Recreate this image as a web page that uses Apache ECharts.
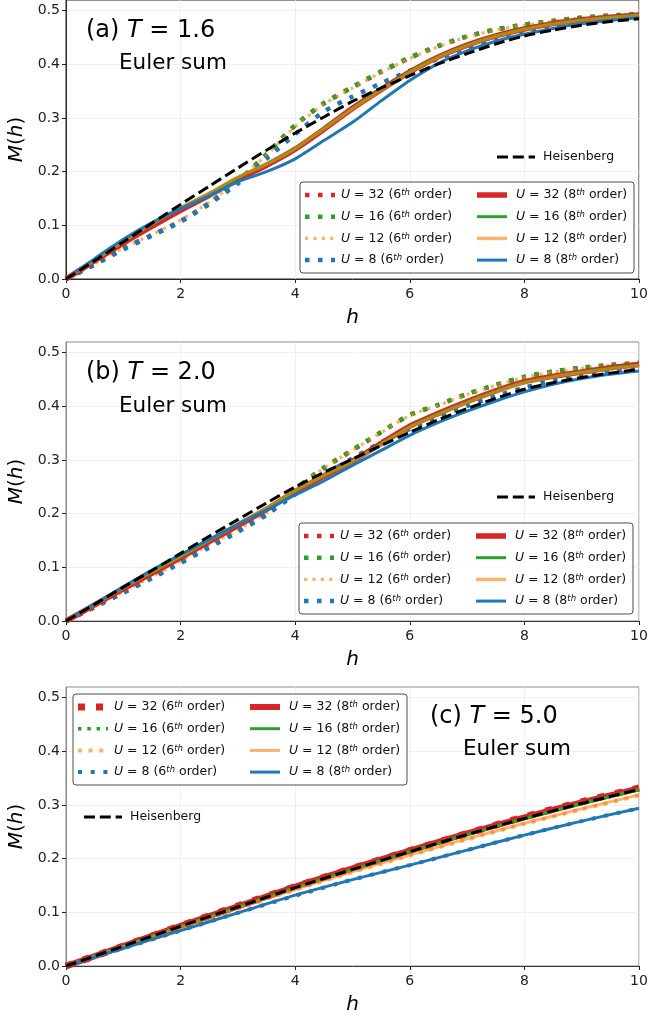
<!DOCTYPE html>
<html>
<head>
<meta charset="utf-8">
<script src="https://cdn.jsdelivr.net/npm/echarts@6/dist/echarts.min.js"></script>
<style>
  html, body { margin: 0; padding: 0; background: #fff; }
  #chart { width: 648px; height: 1019px; }
</style>
</head>
<body>
<div id="chart"></div>
<script>
// Magnetization M(h) from the Euler-summed series, three temperatures.

// field values
const hFine = [0, 0.5, 1, 1.5, 2, 2.5, 3, 3.5, 4, 4.5, 5, 5.5, 6, 6.5, 7, 7.5, 8, 8.5, 9, 9.5, 10];
const hCoarse = [0, 1, 2, 3, 4, 5, 6, 7, 8, 9, 10];

const xTicks = [0, 2, 4, 6, 8, 10];
const yTicks = [0, 0.1, 0.2, 0.3, 0.4, 0.5];
const uValues = [32, 16, 12, 8];

// (a) T = 1.6
const a_heis   = [0, 0.034, 0.069, 0.104, 0.139, 0.173, 0.207, 0.240, 0.272, 0.302, 0.331, 0.356, 0.379, 0.401, 0.420, 0.438, 0.453, 0.464, 0.473, 0.480, 0.485];
const a_6_u32  = [0, 0.027, 0.057, 0.082, 0.108, 0.142, 0.183, 0.232, 0.286, 0.327, 0.357, 0.386, 0.412, 0.434, 0.452, 0.465, 0.474, 0.481, 0.487, 0.491, 0.494];
const a_6_u16  = [0, 0.027, 0.056, 0.081, 0.107, 0.140, 0.182, 0.233, 0.287, 0.328, 0.358, 0.387, 0.413, 0.435, 0.452, 0.465, 0.474, 0.481, 0.487, 0.491, 0.494];
const a_6_u12  = [0, 0.028, 0.058, 0.083, 0.110, 0.143, 0.184, 0.231, 0.284, 0.326, 0.356, 0.385, 0.411, 0.433, 0.451, 0.464, 0.473, 0.480, 0.486, 0.490, 0.493];
const a_6_u8   = [0, 0.027, 0.055, 0.081, 0.107, 0.140, 0.178, 0.224, 0.270, 0.312, 0.340, 0.365, 0.388, 0.411, 0.431, 0.447, 0.460, 0.470, 0.478, 0.484, 0.488];
const a_8_u32  = [0, 0.034, 0.067, 0.098, 0.128, 0.156, 0.186, 0.212, 0.242, 0.279, 0.318, 0.353, 0.386, 0.414, 0.436, 0.453, 0.466, 0.476, 0.483, 0.488, 0.492];
const a_8_u16  = [0, 0.035, 0.070, 0.102, 0.132, 0.159, 0.189, 0.214, 0.243, 0.280, 0.318, 0.353, 0.386, 0.414, 0.436, 0.453, 0.466, 0.476, 0.483, 0.488, 0.492];
const a_8_u12  = [0, 0.035, 0.070, 0.103, 0.133, 0.160, 0.190, 0.214, 0.243, 0.280, 0.317, 0.352, 0.385, 0.413, 0.435, 0.452, 0.465, 0.475, 0.482, 0.487, 0.491];
const a_8_u8   = [0, 0.038, 0.074, 0.105, 0.131, 0.155, 0.181, 0.200, 0.224, 0.258, 0.292, 0.332, 0.370, 0.402, 0.425, 0.443, 0.456, 0.467, 0.476, 0.482, 0.487];

// (b) T = 2.0
const b_heis   = [0, 0.031, 0.063, 0.094, 0.126, 0.158, 0.189, 0.220, 0.250, 0.277, 0.302, 0.327, 0.352, 0.375, 0.396, 0.415, 0.432, 0.444, 0.454, 0.462, 0.469];
const b_6_u32  = [0, 0.026, 0.053, 0.080, 0.110, 0.140, 0.168, 0.200, 0.245, 0.285, 0.318, 0.352, 0.384, 0.403, 0.423, 0.440, 0.455, 0.465, 0.472, 0.477, 0.481];
const b_6_u16  = [0, 0.026, 0.054, 0.081, 0.111, 0.141, 0.169, 0.201, 0.246, 0.286, 0.319, 0.352, 0.384, 0.403, 0.423, 0.440, 0.455, 0.465, 0.472, 0.477, 0.481];
const b_6_u12  = [0, 0.027, 0.055, 0.082, 0.112, 0.142, 0.170, 0.202, 0.246, 0.285, 0.318, 0.351, 0.383, 0.402, 0.422, 0.439, 0.454, 0.464, 0.471, 0.476, 0.480];
const b_6_u8   = [0, 0.026, 0.053, 0.080, 0.108, 0.137, 0.166, 0.198, 0.236, 0.272, 0.303, 0.333, 0.358, 0.381, 0.401, 0.419, 0.435, 0.448, 0.458, 0.465, 0.471];
const b_8_u32  = [0, 0.030, 0.060, 0.089, 0.118, 0.148, 0.178, 0.208, 0.241, 0.270, 0.298, 0.331, 0.363, 0.387, 0.409, 0.429, 0.446, 0.456, 0.464, 0.472, 0.478];
const b_8_u16  = [0, 0.031, 0.062, 0.091, 0.120, 0.150, 0.180, 0.210, 0.243, 0.271, 0.298, 0.330, 0.362, 0.386, 0.408, 0.428, 0.445, 0.455, 0.464, 0.471, 0.477];
const b_8_u12  = [0, 0.031, 0.062, 0.092, 0.121, 0.151, 0.181, 0.211, 0.243, 0.271, 0.297, 0.329, 0.361, 0.385, 0.407, 0.427, 0.444, 0.455, 0.463, 0.470, 0.476];
const b_8_u8   = [0, 0.032, 0.064, 0.095, 0.124, 0.152, 0.180, 0.207, 0.235, 0.261, 0.290, 0.318, 0.346, 0.370, 0.391, 0.410, 0.427, 0.441, 0.452, 0.460, 0.466];

// (c) T = 5.0
const c_heis   = [0, 0.037, 0.074, 0.110, 0.146, 0.180, 0.213, 0.245, 0.275, 0.303, 0.329];
const c_6_u32  = [0, 0.037, 0.075, 0.112, 0.148, 0.182, 0.215, 0.247, 0.278, 0.306, 0.332];
const c_6_u16  = [0, 0.037, 0.074, 0.110, 0.146, 0.180, 0.213, 0.245, 0.275, 0.303, 0.329];
const c_6_u12  = [0, 0.036, 0.071, 0.107, 0.142, 0.175, 0.206, 0.236, 0.265, 0.292, 0.318];
const c_6_u8   = [0, 0.033, 0.066, 0.099, 0.131, 0.161, 0.188, 0.216, 0.244, 0.270, 0.294];
const c_8_u32  = [0, 0.037, 0.075, 0.111, 0.148, 0.182, 0.215, 0.247, 0.277, 0.305, 0.331];
const c_8_u16  = [0, 0.037, 0.074, 0.110, 0.146, 0.180, 0.213, 0.245, 0.275, 0.303, 0.329];
const c_8_u12  = [0, 0.036, 0.072, 0.108, 0.143, 0.176, 0.207, 0.237, 0.266, 0.293, 0.319];
const c_8_u8   = [0, 0.033, 0.066, 0.099, 0.132, 0.161, 0.188, 0.216, 0.244, 0.270, 0.294];

const FONT = "'DejaVu Sans', sans-serif";
const COLORS = { 32: '#d62728', 16: '#2ca02c', 12: '#ff7f0e', 8: '#1f77b4' };
const OPACITY = { 32: 1, 16: 1, 12: 0.6, 8: 1 };

// line widths and dot patterns per U
const STYLE_AB = {
  32: { w6: 4.5, d6: [4.5, 8.5], w8: 5.5 },
  16: { w6: 4.5, d6: [4.5, 8.5], w8: 3 },
  12: { w6: 3.2, d6: [3.2, 5.2], w8: 3.5 },
  8:  { w6: 4.5, d6: [4.5, 8.5], w8: 3 }
};
const STYLE_C = {
  32: { w6: 7, d6: [7, 11], w8: 6 },
  16: { w6: 3.5, d6: [3.5, 5.8], w8: 3 },
  12: { w6: 4, d6: [4, 6.6], w8: 3 },
  8:  { w6: 4, d6: [4, 8.7], w8: 3 }
};

const panels = [
  { tag: 'a', T: '1.6', h: hFine, heis: a_heis,
    six: { 32: a_6_u32, 16: a_6_u16, 12: a_6_u12, 8: a_6_u8 },
    eight: { 32: a_8_u32, 16: a_8_u16, 12: a_8_u12, 8: a_8_u8 },
    style: STYLE_AB, top: 0, frame: '#262626', side: '#262626',
    title: [86, 31], euler: [119, 63], box: [300, 182], heisKey: [497, 157] },
  { tag: 'b', T: '2.0', h: hFine, heis: b_heis,
    six: { 32: b_6_u32, 16: b_6_u16, 12: b_6_u12, 8: b_6_u8 },
    eight: { 32: b_8_u32, 16: b_8_u16, 12: b_8_u12, 8: b_8_u8 },
    style: STYLE_AB, top: 342, frame: '#3a3a3a', side: '#8a8a8a',
    title: [86, 373], euler: [119, 406], box: [299, 523], heisKey: [497, 497] },
  { tag: 'c', T: '5.0', h: hCoarse, heis: c_heis,
    six: { 32: c_6_u32, 16: c_6_u16, 12: c_6_u12, 8: c_6_u8 },
    eight: { 32: c_8_u32, 16: c_8_u16, 12: c_8_u12, 8: c_8_u8 },
    style: STYLE_C, top: 687, frame: '#3a3a3a', side: '#8a8a8a',
    title: [430, 717], euler: [463, 749], box: [73, 694], heisKey: [84, 817] }
];

const pairs = (xs, ys) => xs.map((x, i) => [x, ys[i]]);

const grids = [], xAxes = [], yAxes = [], series = [], graphics = [];

const italicRich = (size) => ({ fontStyle: 'italic', fontSize: size, fontFamily: FONT, color: '#000' });

panels.forEach((p, gi) => {
  grids.push({ left: 66, width: 573, top: p.top, height: 279, show: true,
    outerBoundsMode: 'none', containLabel: false,
    borderColor: p.side, borderWidth: 1, backgroundColor: 'transparent' });

  xAxes.push({ gridIndex: gi, type: 'value', min: 0, max: 10, interval: 2,
    name: '{i|h}', nameLocation: 'middle', nameGap: 29,
    nameTextStyle: { fontSize: 20, fontFamily: FONT, color: '#000', rich: { i: italicRich(20) } },
    axisLine: { show: true, lineStyle: { color: p.frame, width: 1 } },
    axisTick: { show: true, inside: false, length: 4, lineStyle: { color: '#222' }, customValues: xTicks },
    axisLabel: { fontSize: 14, fontFamily: FONT, color: '#222', margin: 8,
      customValues: xTicks, showMinLabel: true, showMaxLabel: true, hideOverlap: false },
    splitLine: { show: true, lineStyle: { color: '#ececec', width: 0.8 } } });

  yAxes.push({ gridIndex: gi, type: 'value', min: 0, max: 0.52,
    name: '{i|M}({i|h})', nameLocation: 'middle', nameGap: 34, nameRotate: 90,
    nameTextStyle: { fontSize: 20, fontFamily: FONT, color: '#000', rich: { i: italicRich(20) } },
    axisLine: { show: true, lineStyle: { color: p.side, width: 1 } },
    axisTick: { show: true, inside: false, length: 4, lineStyle: { color: '#222' }, customValues: yTicks },
    axisLabel: { fontSize: 14, fontFamily: FONT, color: '#222', margin: 6,
      customValues: yTicks, formatter: v => v.toFixed(1) },
    splitLine: { show: true, lineStyle: { color: '#ececec', width: 0.8 } } });

  // 6th order (dotted), then 8th order (solid), Heisenberg on top
  uValues.forEach(u => {
    const st = p.style[u];
    series.push({ type: 'line', name: `U=${u} 6th (${p.tag})`, xAxisIndex: gi, yAxisIndex: gi,
      data: pairs(p.h, p.six[u]), showSymbol: false, smooth: 0.25,
      lineStyle: { color: COLORS[u], width: st.w6, type: st.d6, cap: 'butt', opacity: OPACITY[u] } });
  });
  uValues.forEach(u => {
    const st = p.style[u];
    series.push({ type: 'line', name: `U=${u} 8th (${p.tag})`, xAxisIndex: gi, yAxisIndex: gi,
      data: pairs(p.h, p.eight[u]), showSymbol: false, smooth: 0.25,
      lineStyle: { color: COLORS[u], width: st.w8, type: 'solid', opacity: OPACITY[u] } });
  });
  series.push({ type: 'line', name: `Heisenberg (${p.tag})`, xAxisIndex: gi, yAxisIndex: gi,
    data: pairs(p.h, p.heis), showSymbol: false, smooth: 0.25,
    lineStyle: { color: '#000', width: 3, type: [11, 4.8], cap: 'butt' } });

  // panel captions
  graphics.push({ type: 'text', x: p.title[0], y: p.title[1], z: 100,
    style: { text: `(${p.tag}) {i|T} = ${p.T}`, fontSize: 24, fontFamily: FONT, fill: '#000',
      verticalAlign: 'middle',
      rich: { i: { fontStyle: 'italic', fontSize: 24, fontFamily: FONT, fill: '#000' } } } });
  graphics.push({ type: 'text', x: p.euler[0], y: p.euler[1], z: 100,
    style: { text: 'Euler sum', fontSize: 21.5, fontFamily: FONT, fill: '#000', verticalAlign: 'middle' } });

  // Heisenberg key
  const [hx, hy] = p.heisKey;
  graphics.push({ type: 'line', z: 100, shape: { x1: hx, y1: hy, x2: hx + 38, y2: hy },
    style: { stroke: '#000', lineWidth: 3, lineDash: [11, 4.8], lineCap: 'butt' } });
  graphics.push({ type: 'text', x: hx + 46, y: hy, z: 100,
    style: { text: 'Heisenberg', fontSize: 12.5, fontFamily: FONT, fill: '#111', verticalAlign: 'middle' } });

  // series key box
  const [bx, by] = p.box;
  graphics.push({ type: 'rect', z: 100, shape: { x: bx, y: by, width: 334, height: 91, r: 3 },
    style: { fill: 'rgba(255,255,255,0.85)', stroke: '#4d4d4d', lineWidth: 1 } });
  const keyRich = {
    i: { fontStyle: 'italic', fontSize: 12.5, fontFamily: FONT, fill: '#111' },
    s: { fontStyle: 'italic', fontSize: 8.5, fontFamily: FONT, fill: '#111', verticalAlign: 'top' }
  };
  uValues.forEach((u, k) => {
    const st = p.style[u];
    const cy = by + 13 + k * 21.7;
    graphics.push({ type: 'line', z: 101, shape: { x1: bx + 5, y1: cy, x2: bx + 35, y2: cy },
      style: { stroke: COLORS[u], lineWidth: st.w6, lineDash: st.d6, lineCap: 'butt', opacity: OPACITY[u] } });
    graphics.push({ type: 'text', x: bx + 41, y: cy, z: 101,
      style: { text: `{i|U} = ${u} (6{s|th} order)`, fontSize: 12.5, fontFamily: FONT, fill: '#111',
        verticalAlign: 'middle', rich: keyRich } });
    graphics.push({ type: 'line', z: 101, shape: { x1: bx + 177, y1: cy, x2: bx + 207, y2: cy },
      style: { stroke: COLORS[u], lineWidth: st.w8, lineCap: 'butt', opacity: OPACITY[u] } });
    graphics.push({ type: 'text', x: bx + 216, y: cy, z: 101,
      style: { text: `{i|U} = ${u} (8{s|th} order)`, fontSize: 12.5, fontFamily: FONT, fill: '#111',
        verticalAlign: 'middle', rich: keyRich } });
  });
});

const chart = echarts.init(document.getElementById('chart'), null, { renderer: 'canvas' });
chart.setOption({
  animation: false,
  backgroundColor: '#fff',
  grid: grids,
  xAxis: xAxes,
  yAxis: yAxes,
  series: series,
  graphic: { elements: graphics }
});
</script>
</body>
</html>
